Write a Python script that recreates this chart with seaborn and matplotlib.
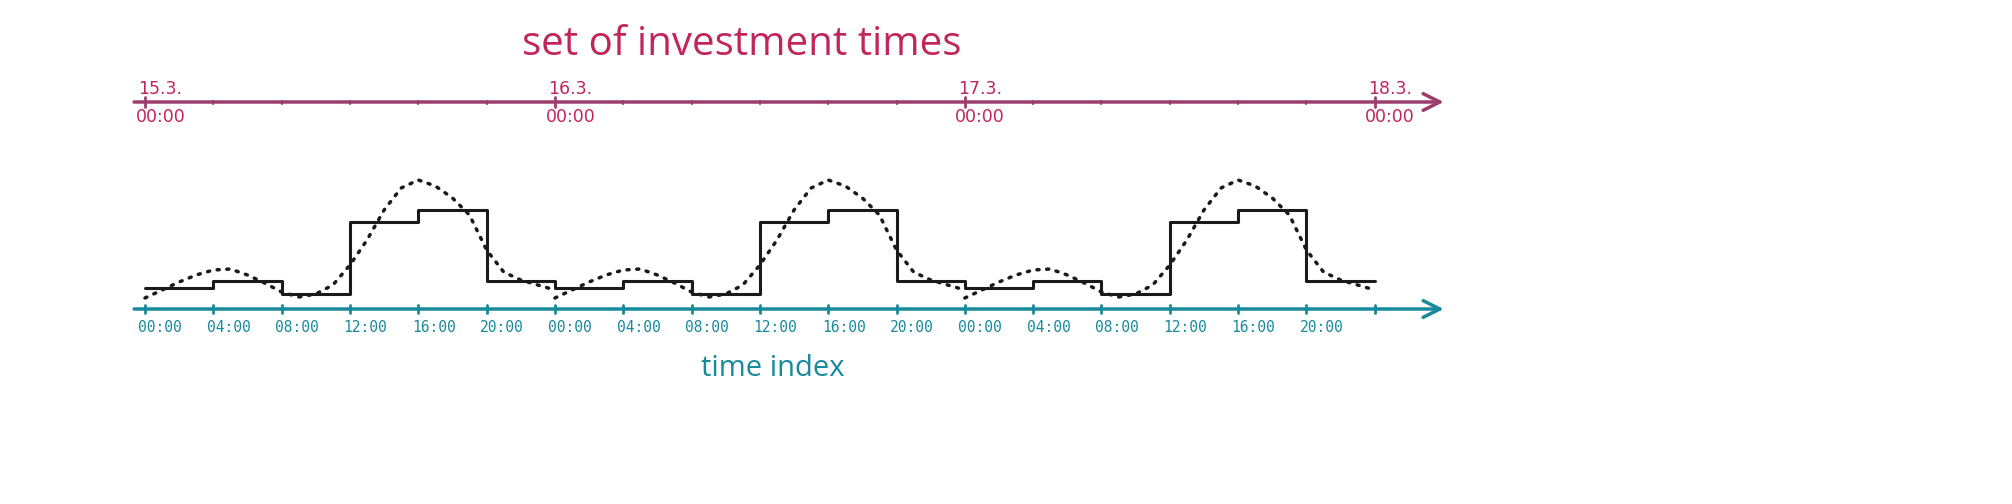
import numpy as np
import pandas as pd
import matplotlib.pyplot as plt
import seaborn as sns

# hourly dotted curve for one day (value units above the time axis)
curve_day = [12, 20, 28, 35, 40, 41, 35, 27, 18, 13, 16, 25, 45, 70, 100, 122,
             130, 124, 112, 95, 60, 38, 30, 25, 20]
# 4-hour step levels for one day
step_day = [22, 29, 16, 88, 100, 29]
n_days = 3
day_labels = ["15.3.", "16.3.", "17.3.", "18.3."]
hour_labels = ["00:00", "04:00", "08:00", "12:00", "16:00", "20:00"]

crimson = "#c2255c"
purple = "#9c3d6e"
teal = "#178a9c"

sns.set_style("white")
fig = plt.figure(figsize=(20.12, 5.04), dpi=100)
ax = fig.add_axes([0, 0, 1, 1])
px = 17.08  # pixels per hour
ax.set_xlim(-145 / px, (2012 - 145) / px)
ax.set_ylim(-194, 310)
ax.axis("off")

# dotted curve, one segment per day
for d in range(n_days):
    df = pd.DataFrame({"t": np.arange(25) + 24 * d, "v": curve_day})
    sns.lineplot(data=df, x="t", y="v", ax=ax, color="#1a1a1a", lw=2.5,
                 linestyle=(0, (0.6, 2.2)), dash_capstyle="round")

# step function
st = np.arange(0, 24 * n_days + 4, 4)
sv = step_day * n_days + [step_day[-1]]
sdf = pd.DataFrame({"t": st, "v": sv})
sns.lineplot(data=sdf, x="t", y="v", ax=ax, color="#1a1a1a", lw=2.2,
             drawstyle="steps-post")

# axes with arrows
for y, col in [(1, teal), (208, purple)]:
    ax.annotate("", xy=(76.2, y), xytext=(-0.8, y),
                arrowprops=dict(arrowstyle="->", color=col, lw=2.5,
                                mutation_scale=30))

# bottom ticks
for h in range(0, 24 * n_days + 1, 4):
    ax.plot([h, h], [-3, 5], color=teal, lw=2)
    if h < 24 * n_days:
        ax.text(h + 0.9, -18, hour_labels[(h % 24) // 4], color=teal,
                family="DejaVu Sans Mono", fontsize=10.5, ha="center", va="center")
# top ticks
for h in range(0, 24 * n_days + 1, 4):
    big = h % 24 == 0
    if big:
        ax.plot([h, h], [203, 213], color=purple, lw=2)
        ax.text(h + 0.9, 212, day_labels[h // 24], color=crimson, fontsize=12.5,
                ha="center", va="bottom")
        ax.text(h + 0.9, 202, "00:00", color=crimson, fontsize=12.5,
                ha="center", va="top")
    else:
        ax.plot([h, h], [206.5, 209.5], color=purple, lw=1.5)

ax.text(742 / px - 145 / px, 265, "set of investment times", color=crimson,
        family="Open Sans", fontsize=29, ha="center", va="center")
ax.text(773 / px - 145 / px, -58, "time index", color=teal,
        family="Open Sans", fontsize=21, ha="center", va="center")

fig.savefig("out.png", dpi=100)
